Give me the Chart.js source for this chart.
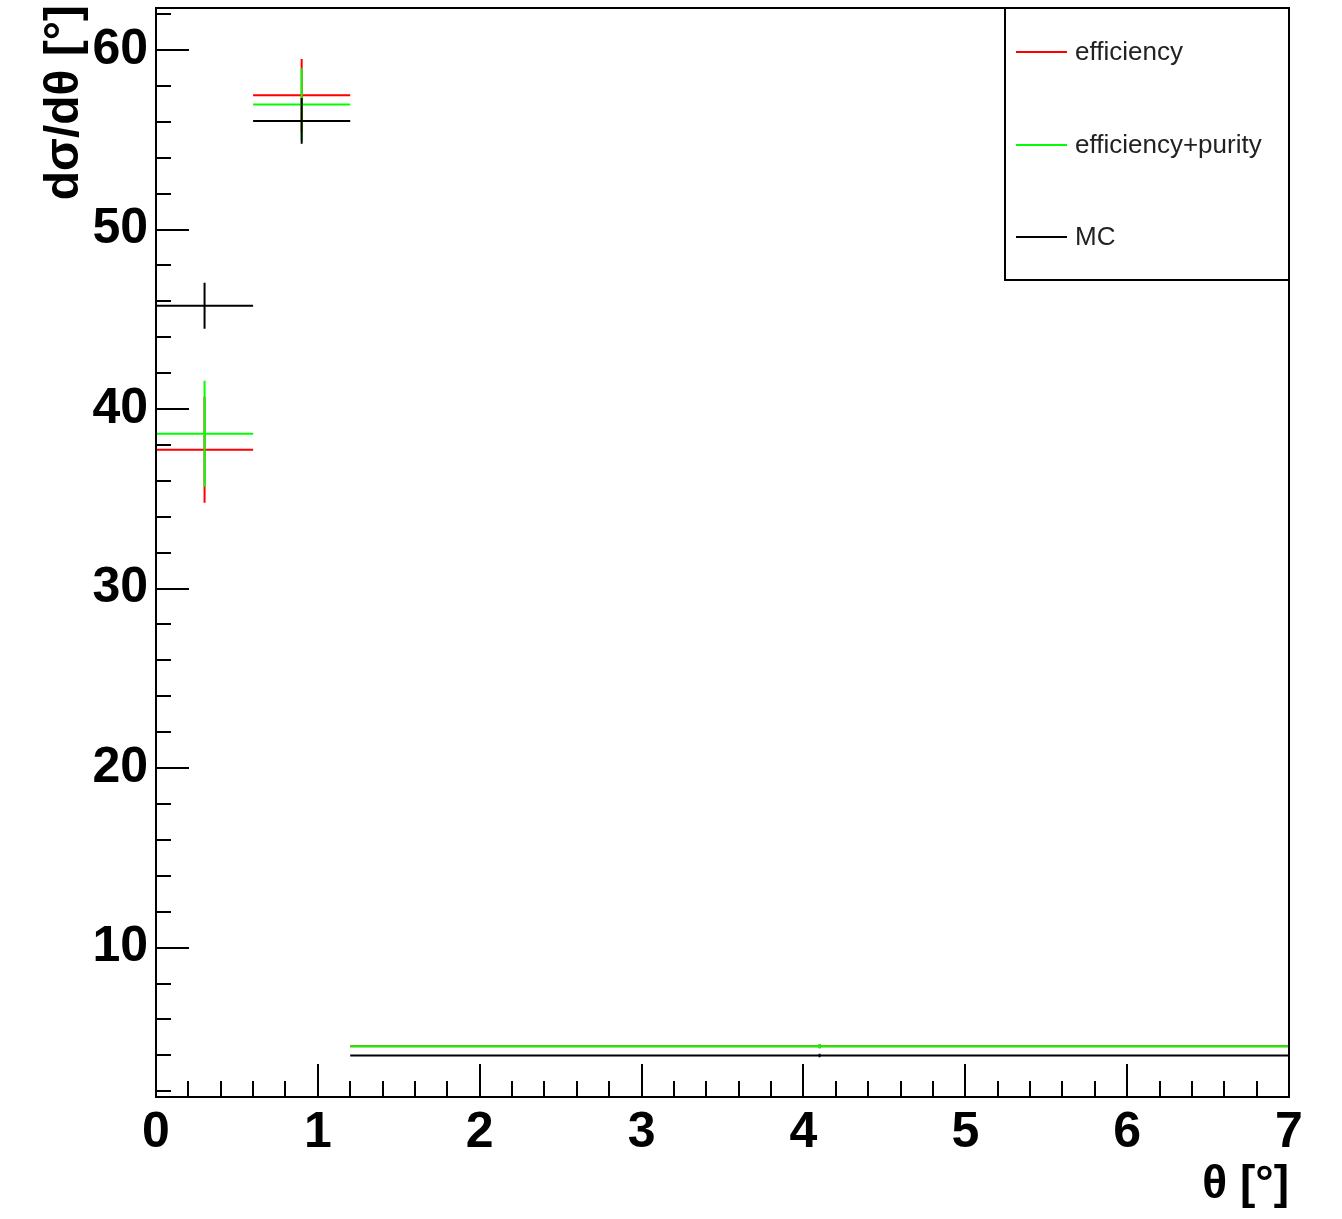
<!DOCTYPE html>
<html><head><meta charset="utf-8">
<script src="https://cdn.jsdelivr.net/npm/chart.js@4.4.0/dist/chart.umd.min.js"></script>
<style>html,body{margin:0;padding:0;background:#fff}#wrap{width:1342px;height:1219px;position:relative}</style>
</head><body><div id="wrap"><canvas id="c"></canvas></div>
<script>
// ---- data ----
const binEdges = [0, 0.6, 1.2, 7];
const effValues = [37.73, 57.48, 4.51];
const effErrors = [2.95, 2.02, 0.12];
const effPurValues = [38.62, 56.96, 4.51];
const effPurErrors = [2.95, 2.02, 0.12];
const mcValues = [45.75, 56.05, 3.99];
const mcErrors = [1.28, 1.27, 0.10];
const seriesLabels = ['efficiency', 'efficiency+purity', 'MC'];
const seriesColors = ['#ff0000', '#00ff00', '#000000'];
const xTickLabels = [0, 1, 2, 3, 4, 5, 6, 7];
const yTickLabels = [10, 20, 30, 40, 50, 60];
const xTitle = 'θ [°]';
const yTitle = 'dσ/dθ [°]';

function hSegs(vals) {
  const d = [];
  vals.forEach((v, i) => { d.push({x: binEdges[i], y: v}, {x: binEdges[i + 1], y: v}, {x: binEdges[i + 1], y: null}); });
  return d;
}
function vSegs(vals, errs) {
  const d = [];
  vals.forEach((v, i) => {
    const c = (binEdges[i] + binEdges[i + 1]) / 2;
    d.push({x: c, y: v - errs[i]}, {x: c, y: v + errs[i]}, {x: c, y: null});
  });
  return d;
}
const series = [[effValues, effErrors], [effPurValues, effPurErrors], [mcValues, mcErrors]];
const datasets = [];
series.forEach((s, k) => {
  const base = {showLine: true, pointRadius: 0, pointHoverRadius: 0, borderWidth: 2, borderColor: seriesColors[k],
    backgroundColor: seriesColors[k], spanGaps: false, order: 2 - k, label: seriesLabels[k]};
  datasets.push(Object.assign({}, base, {data: hSegs(s[0])}));
  datasets.push(Object.assign({}, base, {data: vSegs(s[0], s[1])}));
});

const rootPlugin = {
  id: 'rootStyle',
  afterDraw(chart) {
    const ctx = chart.ctx, a = chart.chartArea, xs = chart.scales.x, ys = chart.scales.y;
    ctx.save();
    ctx.strokeStyle = '#000'; ctx.lineWidth = 2;
    ctx.beginPath();
    // x ticks
    for (let v = xs.min; v <= xs.max + 1e-9; v += 0.2) {
      const p = Math.round(xs.getPixelForValue(v)) ;
      const major = Math.abs(v - Math.round(v)) < 1e-6;
      const len = major ? 33 : 16;
      ctx.moveTo(p, a.bottom); ctx.lineTo(p, a.bottom - len);
    }
    // y ticks
    for (let v = 2; v <= ys.max; v += 2) {
      const p = Math.round(ys.getPixelForValue(v));
      const major = v % 10 === 0;
      const len = major ? 33 : 15;
      ctx.moveTo(a.left, p); ctx.lineTo(a.left + len, p);
    }
    ctx.stroke();
    // frame
    ctx.strokeRect(a.left, a.top, a.right - a.left, a.bottom - a.top);
    // legend
    const lx = 1005, ly = a.top, lw = a.right - 1005, lh = 272;
    ctx.fillStyle = '#fff';
    ctx.fillRect(lx, ly, lw, lh);
    ctx.strokeRect(lx, ly, lw, lh);
    const rows = [52, 145, 237];
    ctx.font = '26px "Liberation Sans", Arial, sans-serif';
    ctx.textBaseline = 'middle'; ctx.textAlign = 'left';
    seriesLabels.forEach((lab, k) => {
      ctx.strokeStyle = seriesColors[k]; ctx.lineWidth = 2;
      ctx.beginPath(); ctx.moveTo(1016, rows[k]); ctx.lineTo(1067, rows[k]); ctx.stroke();
      ctx.fillStyle = '#222';
      ctx.fillText(lab, 1075, rows[k] + 1);
    });
    // axis titles
    ctx.fillStyle = '#000';
    ctx.font = 'bold 46px "Liberation Sans", Arial, sans-serif';
    ctx.textAlign = 'right'; ctx.textBaseline = 'alphabetic';
    ctx.fillText(xTitle, a.right, 1198);
    ctx.font = 'bold 48px "Liberation Sans", Arial, sans-serif';
    ctx.translate(78, 5); ctx.rotate(-Math.PI / 2);
    ctx.fillText(yTitle, 0, 0);
    ctx.restore();
  }
};

new Chart(document.getElementById('c'), {
  type: 'scatter',
  data: {datasets},
  options: {
    responsive: true, maintainAspectRatio: false, animation: false,
    layout: {padding: {top: 8, right: 53, left: 0, bottom: 0}},
    plugins: {legend: {display: false}, tooltip: {enabled: false}},
    events: [],
    scales: {
      x: {
        type: 'linear', min: 0, max: 7,
        afterBuildTicks: s => { s.ticks = xTickLabels.map(v => ({value: v})); },
        afterFit: s => { s.height = 122; s.paddingLeft = 0; s.paddingRight = 0; },
        grid: {display: false, drawTicks: false}, border: {display: false},
        ticks: {font: {family: '"Liberation Sans", Arial, sans-serif', size: 50, weight: 'bold'}, color: '#000',
          padding: 6, maxRotation: 0, autoSkip: false}
      },
      y: {
        type: 'linear', min: 1.68, max: 62.34,
        afterBuildTicks: s => { s.ticks = yTickLabels.map(v => ({value: v})); },
        afterFit: s => { s.width = 156; s.paddingTop = 0; s.paddingBottom = 0; },
        grid: {display: false, drawTicks: false}, border: {display: false},
        ticks: {font: {family: '"Liberation Sans", Arial, sans-serif', size: 50, weight: 'bold'}, color: '#000',
          padding: 8, autoSkip: false}
      }
    }
  },
  plugins: [rootPlugin]
});
</script></body></html>
